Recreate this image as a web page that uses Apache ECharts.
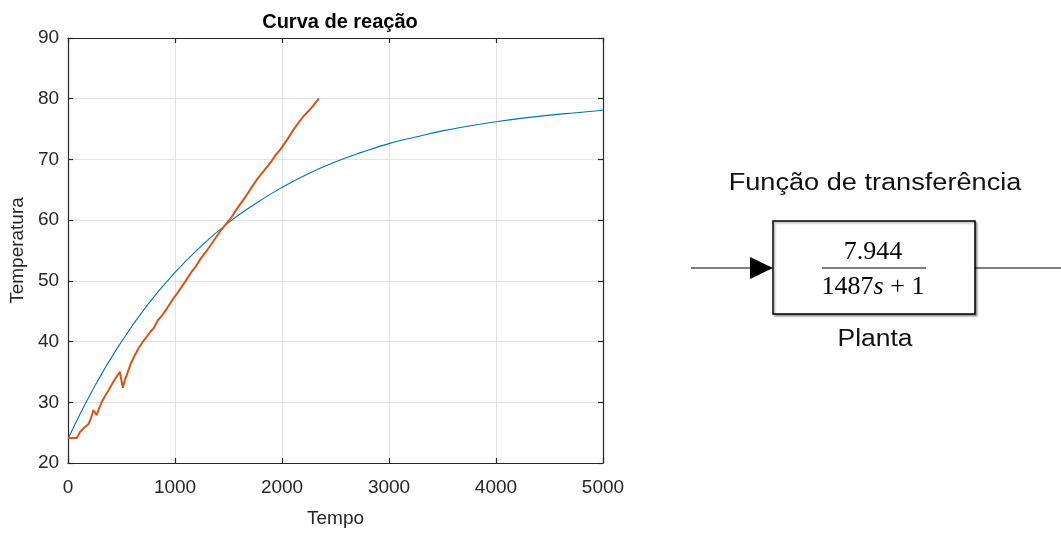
<!DOCTYPE html>
<html>
<head>
<meta charset="utf-8">
<script src="https://cdn.jsdelivr.net/npm/echarts@6/dist/echarts.min.js"></script>
<style>
  html, body { margin: 0; padding: 0; background: #fff; }
  #chart { width: 1061px; height: 533px; }
</style>
</head>
<body>
<div id="chart"></div>
<script>
// Axis ranges and ticks
const xTicks = [0, 1000, 2000, 3000, 4000, 5000];
const yTicks = [20, 30, 40, 50, 60, 70, 80, 90];

// First-order model response (tempo, temperatura)
const modelTime = [0, 250, 500, 750, 1000, 1250, 1500, 1750, 2000, 2250, 2500,
  2750, 3000, 3250, 3500, 3750, 4000, 4250, 4500, 4750, 5000];
const modelTemp = [24.0, 32.7, 40.0, 46.2, 51.4, 55.8, 59.6, 62.7, 65.4, 67.7, 69.6,
  71.2, 72.6, 73.7, 74.7, 75.5, 76.2, 76.8, 77.3, 77.7, 78.1];

// Measured reaction curve (tempo, temperatura)
const measTime = [0, 40, 81, 112, 150, 190, 215, 236, 250, 267, 290, 314, 345, 376, 408,
  438, 465, 485, 500, 512, 530, 547, 585, 625, 660, 700, 740, 774, 800, 840, 883, 930,
  977, 1015, 1054, 1100, 1147, 1195, 1241, 1290, 1334, 1380, 1427, 1475, 1521, 1580,
  1645, 1705, 1770, 1830, 1894, 1940, 1987, 2050, 2111, 2160, 2205, 2275, 2344];
const measTemp = [24.1, 24.1, 24.1, 25.1, 25.8, 26.4, 27.4, 28.7, 28.4, 27.9, 29.0, 30.0,
  31.0, 31.9, 32.9, 33.8, 34.5, 35.0, 33.5, 32.4, 33.6, 34.4, 36.3, 37.8, 38.9, 40.0,
  40.9, 41.7, 42.2, 43.5, 44.4, 45.6, 46.9, 47.8, 48.8, 50.0, 51.3, 52.4, 53.7, 54.8,
  55.9, 57.1, 58.3, 59.3, 60.3, 61.9, 63.5, 65.1, 66.8, 68.1, 69.5, 70.7, 71.7, 73.3,
  75.0, 76.2, 77.2, 78.5, 80.0];

// Block diagram texts
const blockTitle = 'Função de transferência';
const blockNum = '7.944';
const blockDen = '1487{i|s} + 1';
const blockName = 'Planta';

const pairs = (xs, ys) => xs.map((x, i) => [x, ys[i]]);

const sansFont = "'Liberation Sans', Arial, Helvetica, sans-serif";
const serifFont = "'Liberation Serif', 'Times New Roman', serif";
const axisColor = '#262626';

const chart = echarts.init(document.getElementById('chart'), null, { renderer: 'canvas' });

const baseX = {
  type: 'value', min: xTicks[0], max: xTicks[xTicks.length - 1], interval: 1000
};
const baseY = {
  type: 'value', min: yTicks[0], max: yTicks[yTicks.length - 1], interval: 10
};

chart.setOption({
  animation: false,
  backgroundColor: '#fff',
  title: {
    text: 'Curva de reação',
    left: 335, top: 7, textAlign: 'center',
    textStyle: { fontFamily: sansFont, fontWeight: 'bold', fontSize: 20, color: '#000' }
  },
  grid: { left: 67, right: 458, top: 38, bottom: 67, containLabel: false },
  xAxis: [
    Object.assign({}, baseX, {
      position: 'bottom',
      name: 'Tempo', nameLocation: 'middle', nameGap: 46,
      nameTextStyle: { fontFamily: sansFont, fontSize: 19, color: axisColor },
      axisLine: { show: true, onZero: false, lineStyle: { color: axisColor, width: 1.2 } },
      axisTick: { show: true, inside: true, length: 5, lineStyle: { color: axisColor, width: 1.2 } },
      axisLabel: { fontFamily: sansFont, fontSize: 19, color: axisColor, margin: 15,
        formatter: v => String(v) },
      splitLine: { show: true, lineStyle: { color: '#e3e3e3', width: 1 } }
    }),
    Object.assign({}, baseX, {
      position: 'top',
      axisLine: { show: true, onZero: false, lineStyle: { color: axisColor, width: 1.2 } },
      axisTick: { show: true, inside: true, length: 5, lineStyle: { color: axisColor, width: 1.2 } },
      axisLabel: { show: false },
      splitLine: { show: false }
    })
  ],
  yAxis: [
    Object.assign({}, baseY, {
      position: 'left',
      name: 'Temperatura', nameLocation: 'middle', nameGap: 35, nameRotate: 90,
      nameTextStyle: { fontFamily: sansFont, fontSize: 19, color: axisColor },
      axisLine: { show: true, onZero: false, lineStyle: { color: axisColor, width: 1.2 } },
      axisTick: { show: true, inside: true, length: 5, lineStyle: { color: axisColor, width: 1.2 } },
      axisLabel: { fontFamily: sansFont, fontSize: 19, color: axisColor, margin: 9 },
      splitLine: { show: true, lineStyle: { color: '#e3e3e3', width: 1 } }
    }),
    Object.assign({}, baseY, {
      position: 'right',
      axisLine: { show: true, onZero: false, lineStyle: { color: axisColor, width: 1.2 } },
      axisTick: { show: true, inside: true, length: 5, lineStyle: { color: axisColor, width: 1.2 } },
      axisLabel: { show: false },
      splitLine: { show: false }
    })
  ],
  series: [
    {
      name: 'Modelo', type: 'line', xAxisIndex: 0, yAxisIndex: 0,
      data: pairs(modelTime, modelTemp), smooth: true, showSymbol: false,
      lineStyle: { color: '#0072BD', width: 1.1 }, z: 3
    },
    {
      name: 'Medido', type: 'line', xAxisIndex: 0, yAxisIndex: 0,
      data: pairs(measTime, measTemp), showSymbol: false,
      lineStyle: { color: '#D95319', width: 2 }, z: 4
    }
  ],
  graphic: [
    // input signal line and arrow head
    { type: 'line', shape: { x1: 691, y1: 268, x2: 752, y2: 268 },
      style: { stroke: '#000', lineWidth: 1.2 } },
    { type: 'polygon', shape: { points: [[750, 257], [773, 268], [750, 279]] },
      style: { fill: '#000' } },
    // transfer function block
    { type: 'rect', shape: { x: 773, y: 221, width: 202, height: 93 },
      style: { fill: '#fff', stroke: '#000', lineWidth: 1.5,
        shadowBlur: 2, shadowColor: 'rgba(0,0,0,0.35)', shadowOffsetX: 1.5, shadowOffsetY: 1.5 } },
    // output signal line
    { type: 'line', shape: { x1: 975, y1: 268, x2: 1061, y2: 268 },
      style: { stroke: '#000', lineWidth: 1.2 } },
    // fraction bar
    { type: 'line', shape: { x1: 822, y1: 268, x2: 926, y2: 268 },
      style: { stroke: '#000', lineWidth: 1.2 } },
    { type: 'text', x: 873, y: 265,
      style: { text: blockNum, font: '26px ' + serifFont, fill: '#000',
        textAlign: 'center', textVerticalAlign: 'bottom' } },
    { type: 'text', x: 873, y: 274,
      style: { text: blockDen, font: '26px ' + serifFont, fill: '#000',
        textAlign: 'center', textVerticalAlign: 'top',
        rich: { i: { fontStyle: 'italic', fontFamily: serifFont, fontSize: 26 } } } },
    // block captions
    { type: 'text', x: 875, y: 184, scaleX: 1.18,
      style: { text: blockTitle, font: '23px ' + sansFont, fill: '#111',
        textAlign: 'center', textVerticalAlign: 'middle' } },
    { type: 'text', x: 875, y: 340, scaleX: 1.15,
      style: { text: blockName, font: '23px ' + sansFont, fill: '#111',
        textAlign: 'center', textVerticalAlign: 'middle' } }
  ]
});
</script>
</body>
</html>
